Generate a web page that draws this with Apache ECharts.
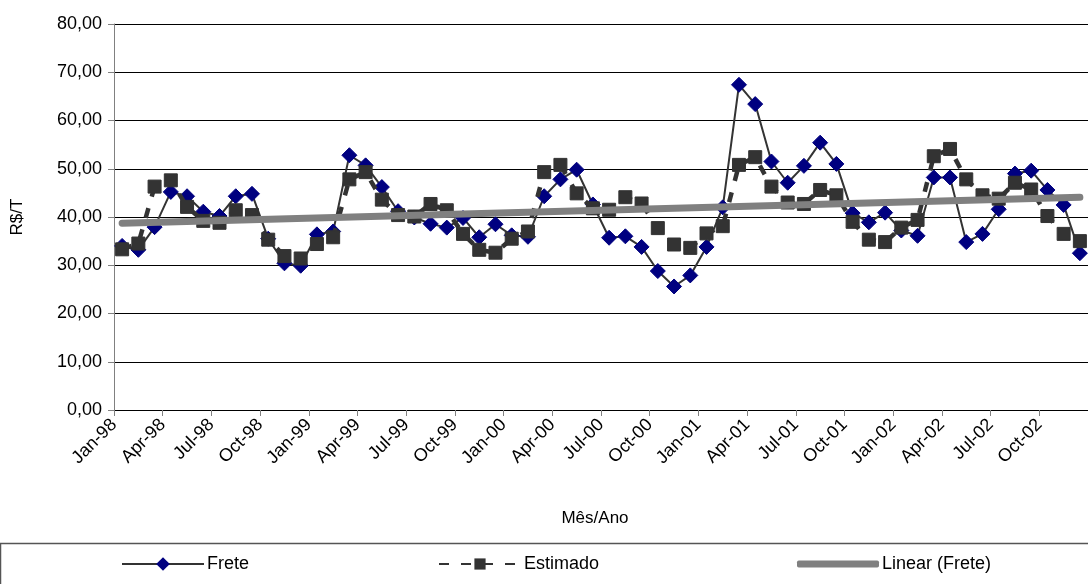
<!DOCTYPE html>
<html>
<head>
<meta charset="utf-8">
<script src="https://cdn.jsdelivr.net/npm/echarts@6/dist/echarts.min.js"></script>
<style>
  html, body { margin: 0; padding: 0; background: #fff; }
  #main { width: 1088px; height: 584px; }
</style>
</head>
<body>
<div id="main"></div>
<script>
var months = [
  'Jan-98','Feb-98','Mar-98','Apr-98','May-98','Jun-98','Jul-98','Aug-98','Sep-98','Oct-98','Nov-98','Dec-98',
  'Jan-99','Feb-99','Mar-99','Apr-99','May-99','Jun-99','Jul-99','Aug-99','Sep-99','Oct-99','Nov-99','Dec-99',
  'Jan-00','Feb-00','Mar-00','Apr-00','May-00','Jun-00','Jul-00','Aug-00','Sep-00','Oct-00','Nov-00','Dec-00',
  'Jan-01','Feb-01','Mar-01','Apr-01','May-01','Jun-01','Jul-01','Aug-01','Sep-01','Oct-01','Nov-01','Dec-01',
  'Jan-02','Feb-02','Mar-02','Apr-02','May-02','Jun-02','Jul-02','Aug-02','Sep-02','Oct-02','Nov-02','Dec-02'
];

var frete = [
  34.0, 33.2, 37.9, 45.2, 44.3, 41.1, 40.2, 44.3, 44.8, 35.5, 30.4, 29.9,
  36.4, 37.0, 52.8, 50.7, 46.2, 41.2, 39.9, 38.6, 37.8, 39.8, 35.8, 38.5,
  36.2, 35.9, 44.3, 47.8, 49.8, 42.6, 35.7, 36.0, 33.8, 28.8, 25.6, 27.9,
  33.8, 42.0, 67.4, 63.4, 51.5, 47.1, 50.6, 55.4, 51.0, 40.8, 38.9, 40.9,
  37.2, 36.1, 48.2, 48.2, 34.8, 36.5, 41.6, 49.0, 49.6, 45.6, 42.5, 32.5
];

var estimado = [
  33.3, 34.5, 46.3, 47.6, 42.1, 39.2, 38.8, 41.4, 40.4, 35.3, 31.9, 31.4,
  34.4, 35.8, 47.8, 49.3, 43.6, 40.4, 40.1, 42.7, 41.4, 36.5, 33.2, 32.6,
  35.5, 37.0, 49.3, 50.8, 44.9, 41.8, 41.5, 44.1, 42.8, 37.7, 34.3, 33.6,
  36.6, 38.1, 50.8, 52.4, 46.3, 43.0, 42.7, 45.6, 44.5, 39.0, 35.3, 34.8,
  37.8, 39.4, 52.6, 54.1, 47.8, 44.5, 43.8, 47.1, 45.7, 40.2, 36.5, 35.0
];

var yTicks = [0, 10, 20, 30, 40, 50, 60, 70, 80];

// points sit in the middle of each month slot
function toPoints(arr) {
  return arr.map(function (v, i) { return [i + 0.5, v]; });
}

// least squares trend of Frete
function trend(arr) {
  var n = arr.length, sx = 0, sy = 0, sxy = 0, sxx = 0;
  arr.forEach(function (v, i) { sx += i; sy += v; sxy += i * v; sxx += i * i; });
  var b = (n * sxy - sx * sy) / (n * sxx - sx * sx);
  var a = (sy - b * sx) / n;
  return [[0.5, a], [n - 0.5, a + b * (n - 1)]];
}

var font = 'Liberation Sans, Arial, sans-serif';
var myChart = echarts.init(document.getElementById('main'));

function legendAt(left, item, h) {
  return {
    orient: 'horizontal',
    left: left,
    top: 555,
    padding: 0,
    itemWidth: 82,
    itemHeight: h,
    itemGap: 0,
    data: [item],
    textStyle: { fontFamily: font, fontSize: 18, color: '#000', padding: [0, 0, 0, -2] }
  };
}

var option = {
  animation: false,
  backgroundColor: '#fff',
  grid: { left: 114, top: 24, right: -12, bottom: 174, containLabel: false },
  legend: [
    legendAt(121, 'Frete', 17),
    legendAt(438, 'Estimado', 14),
    legendAt(797, { name: 'Linear (Frete)', icon: 'roundRect' }, 7)
  ],
  graphic: [{
    type: 'rect',
    shape: { x: 0.5, y: 543.5, width: 1100, height: 60 },
    style: { fill: 'none', stroke: '#555', lineWidth: 1.5 },
    silent: true
  }],
  xAxis: {
    type: 'value',
    min: 0,
    max: 60,
    interval: 3,
    name: 'Mês/Ano',
    nameLocation: 'middle',
    nameGap: 100,
    nameTextStyle: { fontFamily: font, fontSize: 17, color: '#000', padding: [0, 12, 0, 0] },
    axisLine: { lineStyle: { color: '#000', width: 1 } },
    axisTick: { show: true, length: 6, lineStyle: { color: '#808080' } },
    splitLine: { show: false },
    axisLabel: {
      rotate: 45,
      margin: 12,
      fontFamily: font,
      fontSize: 18,
      color: '#000',
      showMaxLabel: false,
      formatter: function (v) { return months[v] || ''; }
    }
  },
  yAxis: {
    type: 'value',
    min: yTicks[0],
    max: yTicks[yTicks.length - 1],
    interval: 10,
    name: 'R$/T',
    nameLocation: 'middle',
    nameGap: 88,
    nameTextStyle: { fontFamily: font, fontSize: 17, color: '#000' },
    axisLine: { show: true, lineStyle: { color: '#808080', width: 1 } },
    axisTick: { show: true, length: 6, lineStyle: { color: '#808080' } },
    splitLine: { show: true, lineStyle: { color: '#000', width: 1 } },
    axisLabel: {
      margin: 12,
      fontFamily: font,
      fontSize: 18,
      color: '#000',
      formatter: function (v) { return v.toFixed(2).replace('.', ','); }
    }
  },
  series: [
    {
      name: 'Frete',
      type: 'line',
      data: toPoints(frete),
      symbol: 'diamond',
      symbolSize: 15,
      clip: false,
      itemStyle: { color: '#000080', borderColor: '#000080' },
      lineStyle: { color: '#333', width: 2 },
      z: 2
    },
    {
      name: 'Estimado',
      type: 'line',
      data: toPoints(estimado),
      symbol: 'rect',
      symbolSize: 13,
      clip: false,
      itemStyle: { color: '#333', borderColor: '#333' },
      lineStyle: { color: '#333', width: 4.5, type: [10, 12] },
      z: 3
    },
    {
      name: 'Linear (Frete)',
      type: 'line',
      data: trend(frete),
      symbol: 'none',
      clip: false,
      itemStyle: { color: '#808080' },
      lineStyle: { color: '#808080', width: 7, cap: 'round' },
      z: 4
    }
  ]
};

myChart.setOption(option);
</script>
</body>
</html>
